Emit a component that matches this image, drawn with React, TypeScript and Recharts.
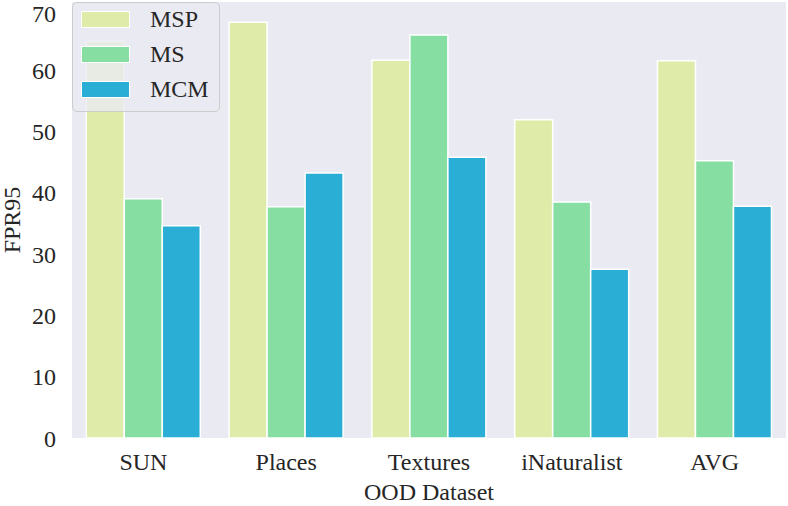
import { BarChart, Bar, XAxis, YAxis, Label } from "recharts";

const categories = ["SUN", "Places", "Textures", "iNaturalist", "AVG"];
const mspValues = [64.7, 67.8, 61.6, 51.9, 61.5];
const msValues = [39.0, 37.7, 65.7, 38.5, 45.2];
const mcmValues = [34.6, 43.2, 45.8, 27.5, 37.8];
const yTicks = [0, 10, 20, 30, 40, 50, 60, 70];

const SERIES = [
  { key: "MSP", color: "#DFEBA9" },
  { key: "MS", color: "#86DEA3" },
  { key: "MCM", color: "#2AAED5" },
];

const FONT = "'Liberation Serif', 'Times New Roman', serif";
const TEXT = "#262626";
const FS = 24;

const chartData = categories.map((name, i) => ({
  name,
  MSP: mspValues[i],
  MS: msValues[i],
  MCM: mcmValues[i],
}));

function YTitle(props: any) {
  const vb = props.viewBox || { x: 0, y: 0, width: 72, height: 436 };
  const x = vb.x + 20;
  const y = vb.y + vb.height / 2;
  return (
    <text
      x={x}
      y={y}
      transform={`rotate(-90 ${x} ${y})`}
      textAnchor="middle"
      fill={TEXT}
      fontSize={FS}
      fontFamily={FONT}
    >
      FPR95
    </text>
  );
}

function XTitle(props: any) {
  const vb = props.viewBox || { x: 72, y: 438, width: 714, height: 68 };
  return (
    <text
      x={vb.x + vb.width / 2}
      y={vb.y + 62}
      textAnchor="middle"
      fill={TEXT}
      fontSize={FS}
      fontFamily={FONT}
    >
      OOD Dataset
    </text>
  );
}

export default function App() {
  return (
    <div
      style={{
        position: "absolute",
        left: 0,
        top: 0,
        width: 788,
        height: 506,
        background: "#fff",
        fontFamily: FONT,
      }}
    >
      <BarChart
        width={788}
        height={506}
        data={chartData}
        margin={{ top: 2, right: 2, bottom: 0, left: 0 }}
        barCategoryGap="10%"
        barGap={0}
      >
        <rect x={72} y={2} width={714} height={436} fill="#EAEAF2" />
        <XAxis
          dataKey="name"
          axisLine={false}
          tickLine={false}
          tickSize={0}
          tickMargin={15}
          height={68}
          interval={0}
          tick={{ fill: TEXT, fontSize: FS, fontFamily: FONT }}
        >
          <Label content={<XTitle />} />
        </XAxis>
        <YAxis
          domain={[0, 71.1]}
          ticks={yTicks}
          axisLine={false}
          tickLine={false}
          tickSize={0}
          tickMargin={16}
          width={72}
          tick={{ fill: TEXT, fontSize: FS, fontFamily: FONT }}
        >
          <Label content={<YTitle />} />
        </YAxis>
        {SERIES.map((s) => (
          <Bar
            key={s.key}
            dataKey={s.key}
            fill={s.color}
            stroke="#ffffff"
            strokeWidth={1.5}
            isAnimationActive={false}
          />
        ))}
      </BarChart>
      <div
        style={{
          position: "absolute",
          left: 72,
          top: 2,
          width: 148,
          height: 110,
          boxSizing: "border-box",
          background: "rgba(234,234,242,0.8)",
          border: "1px solid #CCCCCC",
          borderRadius: 5,
        }}
      >
        {SERIES.map((s, i) => (
          <div
            key={s.key}
            style={{
              position: "absolute",
              left: 0,
              top: 7 + i * 35,
              height: 19,
              display: "flex",
              alignItems: "center",
            }}
          >
            <span
              style={{
                display: "inline-block",
                marginLeft: 8,
                width: 49,
                height: 17,
                boxSizing: "border-box",
                background: s.color,
                border: "1.5px solid #ffffff",
              }}
            />
            <span
              style={{
                marginLeft: 20,
                fontSize: FS,
                color: TEXT,
                lineHeight: "19px",
              }}
            >
              {s.key}
            </span>
          </div>
        ))}
      </div>
    </div>
  );
}
